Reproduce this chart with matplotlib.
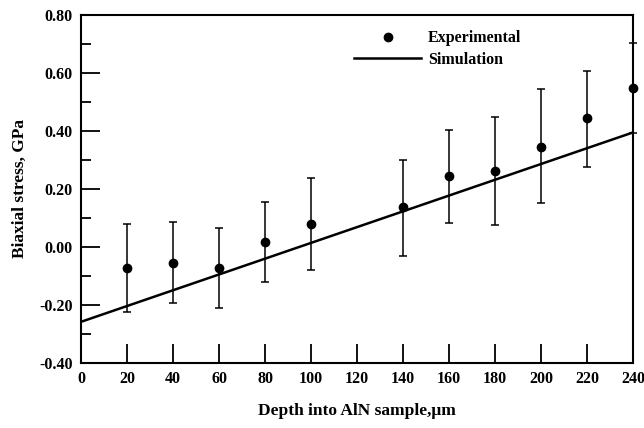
import matplotlib
matplotlib.use('Agg')
import matplotlib.pyplot as plt
from matplotlib.lines import Line2D
from matplotlib.ticker import MultipleLocator

plt.rcParams['font.family'] = ['Liberation Serif', 'DejaVu Serif']
plt.rcParams['font.weight'] = 'bold'

# experimental points
depth = [20, 40, 60, 80, 100, 140, 160, 180, 200, 220, 240]
stress = [-0.072, -0.055, -0.072, 0.017, 0.079, 0.138, 0.245, 0.262, 0.345, 0.445, 0.548]
err_hi = [0.079, 0.086, 0.066, 0.155, 0.238, 0.300, 0.403, 0.448, 0.545, 0.607, 0.703]
err_lo = [-0.224, -0.193, -0.210, -0.121, -0.079, -0.031, 0.083, 0.076, 0.152, 0.276, 0.393]

# simulation line
sim_x = [0, 240]
sim_y = [-0.258, 0.395]

yerr = [[s - lo for s, lo in zip(stress, err_lo)],
        [hi - s for s, hi in zip(stress, err_hi)]]

fig = plt.figure(figsize=(6.44, 4.28), dpi=100)
ax = fig.add_axes([0.126, 0.152, 0.857, 0.813])

eb = ax.errorbar(depth, stress, yerr=yerr, fmt='o', color='black', markersize=6,
                 ecolor='black', elinewidth=1.1, capsize=3, capthick=1.1, zorder=3)
for art in eb.lines[0:1] + tuple(eb.lines[1]) + tuple(eb.lines[2]):
    art.set_clip_on(False)
ax.plot(sim_x, sim_y, color='black', linewidth=1.8)

ax.set_xlim(0, 240)
ax.set_ylim(-0.40, 0.80)
ax.xaxis.set_major_locator(MultipleLocator(20))
ax.yaxis.set_major_locator(MultipleLocator(0.2))
ax.yaxis.set_minor_locator(MultipleLocator(0.1))
ax.yaxis.set_major_formatter(plt.FuncFormatter(lambda v, p: '%.2f' % v))

ax.tick_params(axis='x', which='major', direction='in', length=14, width=1.3,
               labelsize=11.5, pad=6)
ax.tick_params(axis='y', which='major', direction='in', length=14, width=1.3,
               labelsize=11.5, pad=6)
ax.tick_params(axis='y', which='minor', direction='in', length=7, width=1.3)
for lab in ax.get_xticklabels() + ax.get_yticklabels():
    lab.set_fontweight('bold')
for sp in ax.spines.values():
    sp.set_linewidth(1.5)

ax.set_xlabel('Depth into AlN sample,\u03bcm', fontsize=12.5, fontweight='bold', labelpad=11)
ax.set_ylabel('Biaxial stress, GPa', fontsize=12.5, fontweight='bold', labelpad=8)

handles = [Line2D([], [], marker='o', linestyle='none', color='black', markersize=6),
           Line2D([], [], color='black', linewidth=1.8)]
leg = ax.legend(handles, ['Experimental', 'Simulation'], loc='upper left',
                bbox_to_anchor=(0.469, 0.997), frameon=False, fontsize=11.5,
                handlelength=4.2, labelspacing=0.35, handletextpad=0.4)
for t in leg.get_texts():
    t.set_fontweight('bold')

fig.savefig('out.png', dpi=100)
